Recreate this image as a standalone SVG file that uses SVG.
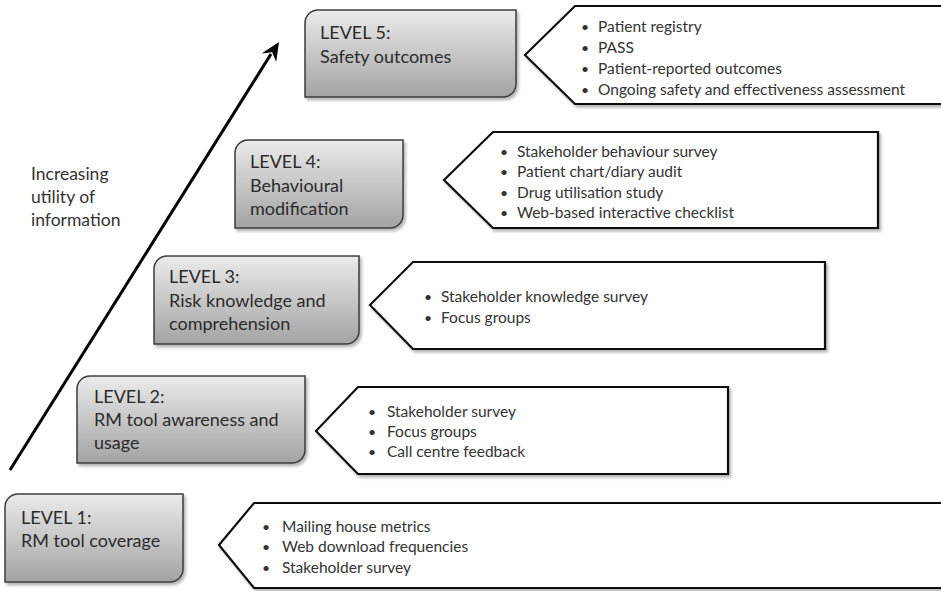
<svg xmlns="http://www.w3.org/2000/svg" width="941" height="591" viewBox="0 0 941 591">
  <defs>
    <linearGradient id="levelFill" x1="0" y1="0" x2="0" y2="1">
      <stop offset="0" stop-color="#ebebeb"/>
      <stop offset="1" stop-color="#a3a3a3"/>
    </linearGradient>
    <filter id="softShadow" x="-10%" y="-10%" width="130%" height="140%">
      <feDropShadow dx="2" dy="2.5" stdDeviation="1.5" flood-color="#000" flood-opacity="0.3"/>
    </filter>
  </defs>
  <style>
    .level { fill: url(#levelFill); stroke: #3c3c3c; stroke-width: 1.5; filter: url(#softShadow); }
    .callout { fill: #fff; stroke: #111; stroke-width: 2.2; stroke-linejoin: miter; filter: url(#softShadow); }
    .lvl-text { font-family: Lato, "Liberation Sans", sans-serif; font-size: 18px; fill: #2b2b2b; }
    .item { font-family: Lato, "Liberation Sans", sans-serif; font-size: 15.5px; fill: #333; }
    .dot { font-family: Lato, "Liberation Sans", sans-serif; font-size: 14px; fill: #333; }
    .side { font-family: Lato, "Liberation Sans", sans-serif; font-size: 17.5px; fill: #333; }
    .arrow { stroke: #000; stroke-width: 3; fill: none; }
  </style>

  <!-- rising arrow and its caption -->
  <g id="connectors">
    <line class="arrow" x1="10" y1="470" x2="271" y2="54"/>
    <polygon points="279,42 276.2,62 272.2,52.3 261.6,53.5" fill="#000"/>
  </g>
  <g id="caption">
    <text class="side" x="31" y="180">Increasing</text>
    <text class="side" x="31" y="203">utility of</text>
    <text class="side" x="31" y="226">information</text>
  </g>

  <!-- LEVEL 1 -->
  <g id="level1">
    <path class="level" d="M5,507 A13,13 0 0 1 18,494 H183 V569 A13,13 0 0 1 170,582 H5 Z"/>
    <text class="lvl-text" x="21" y="524">LEVEL 1:</text>
    <text class="lvl-text" x="21" y="547">RM tool coverage</text>
  </g>
  <g id="methods1">
    <path class="callout" d="M219,545 L254,503 H945 V588 H254 Z"/>
    <text class="dot" x="262" y="532">•</text>
    <text class="item" x="282" y="532">Mailing house metrics</text>
    <text class="dot" x="262" y="552">•</text>
    <text class="item" x="282" y="552">Web download frequencies</text>
    <text class="dot" x="262" y="573">•</text>
    <text class="item" x="282" y="573">Stakeholder survey</text>
  </g>

  <!-- LEVEL 2 -->
  <g id="level2">
    <path class="level" d="M77,389 A13,13 0 0 1 90,376 H305 V450 A13,13 0 0 1 292,463 H77 Z"/>
    <text class="lvl-text" x="94" y="403">LEVEL 2:</text>
    <text class="lvl-text" x="94" y="426">RM tool awareness and</text>
    <text class="lvl-text" x="94" y="449">usage</text>
  </g>
  <g id="methods2">
    <path class="callout" d="M316,431 L358,387 H728 V474 H358 Z"/>
    <text class="dot" x="368" y="417">•</text>
    <text class="item" x="387" y="417">Stakeholder survey</text>
    <text class="dot" x="368" y="437">•</text>
    <text class="item" x="387" y="437">Focus groups</text>
    <text class="dot" x="368" y="457">•</text>
    <text class="item" x="387" y="457">Call centre feedback</text>
  </g>

  <!-- LEVEL 3 -->
  <g id="level3">
    <path class="level" d="M154,269 A13,13 0 0 1 167,256 H359 V331 A13,13 0 0 1 346,344 H154 Z"/>
    <text class="lvl-text" x="169" y="283">LEVEL 3:</text>
    <text class="lvl-text" x="169" y="307">Risk knowledge and</text>
    <text class="lvl-text" x="169" y="330">comprehension</text>
  </g>
  <g id="methods3">
    <path class="callout" d="M370,305 L413,262 H825 V349 H413 Z"/>
    <text class="dot" x="424" y="302">•</text>
    <text class="item" x="441" y="302">Stakeholder knowledge survey</text>
    <text class="dot" x="424" y="323">•</text>
    <text class="item" x="441" y="323">Focus groups</text>
  </g>

  <!-- LEVEL 4 -->
  <g id="level4">
    <path class="level" d="M235,153 A13,13 0 0 1 248,140 H403 V215 A13,13 0 0 1 390,228 H235 Z"/>
    <text class="lvl-text" x="250" y="168">LEVEL 4:</text>
    <text class="lvl-text" x="250" y="192">Behavioural</text>
    <text class="lvl-text" x="250" y="215">modification</text>
  </g>
  <g id="methods4">
    <path class="callout" d="M444,180 L493,132 H878 V228 H493 Z"/>
    <text class="dot" x="500" y="157">•</text>
    <text class="item" x="517" y="157">Stakeholder behaviour survey</text>
    <text class="dot" x="500" y="177">•</text>
    <text class="item" x="517" y="177">Patient chart/diary audit</text>
    <text class="dot" x="500" y="198">•</text>
    <text class="item" x="517" y="198">Drug utilisation study</text>
    <text class="dot" x="500" y="218">•</text>
    <text class="item" x="517" y="218">Web-based interactive checklist</text>
  </g>

  <!-- LEVEL 5 -->
  <g id="level5">
    <path class="level" d="M305,23 A13,13 0 0 1 318,10 H516 V84 A13,13 0 0 1 503,97 H305 Z"/>
    <text class="lvl-text" x="320" y="39">LEVEL 5:</text>
    <text class="lvl-text" x="320" y="63">Safety outcomes</text>
  </g>
  <g id="methods5">
    <path class="callout" d="M525,55 L575,6 H945 V104 H575 Z"/>
    <text class="dot" x="581" y="32">•</text>
    <text class="item" x="598" y="32">Patient registry</text>
    <text class="dot" x="581" y="53">•</text>
    <text class="item" x="598" y="53">PASS</text>
    <text class="dot" x="581" y="74">•</text>
    <text class="item" x="598" y="74">Patient-reported outcomes</text>
    <text class="dot" x="581" y="95">•</text>
    <text class="item" x="598" y="95">Ongoing safety and effectiveness assessment</text>
  </g>
</svg>
